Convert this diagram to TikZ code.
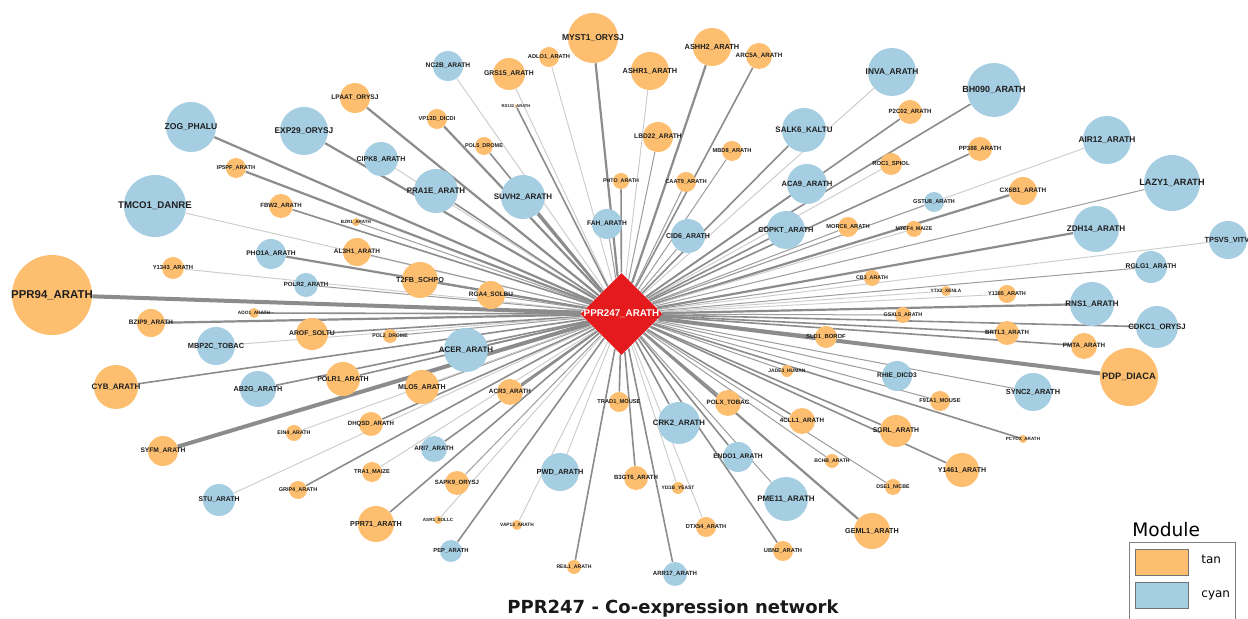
\documentclass[tikz,border=0pt]{standalone}
\usepackage{fontspec}
\setmainfont{Liberation Sans}
\newfontfamily\labfont{Liberation Sans}
\newfontfamily\titfont{DejaVu Sans}
\usetikzlibrary{shapes.geometric,backgrounds}
\definecolor{tanc}{RGB}{253,191,111}
\definecolor{cyanc}{RGB}{166,206,227}
\definecolor{hubred}{RGB}{228,26,28}
\definecolor{edgec}{RGB}{140,140,140}
\definecolor{labc}{RGB}{30,30,30}
\tikzset{
  gcirc/.style={circle,inner sep=0pt,draw=none},
  glab/.style={text=labc,inner sep=0pt},
  eL/.style={draw=edgec!45,line width=0.45pt},
  eT/.style={draw=edgec!85,line width=0.5pt},
  eM/.style={draw=edgec,line width=0.8pt},
  eH/.style={draw=edgec,line width=1.1pt},
  eX/.style={draw=edgec,line width=2pt},
  swatch/.style={draw=black!55,line width=0.4pt},
}
% #1 name, #2 x, #3 y, #4 radius(px), #5 colour, #6 label, #7 edge style
\newcommand\gn[7]{%
  \pgfmathsetmacro\gfs{1.9+0.095*#4}%
  \node[gcirc,fill=#5,minimum size=#4pt] (#1) at (#2,#3) {};
  \node[glab,font={\labfont\bfseries\fontsize{\gfs pt}{\gfs pt}\selectfont}] (#1-l) at (#1) {#6};
  \begin{pgfonlayer}{background}\draw[#7] (hub) -- (#1);\end{pgfonlayer}%
}
\begin{document}
\begin{tikzpicture}[x=0.5pt,y=-0.5pt]
\useasboundingbox (0,0) rectangle (1248,619);
\begin{pgfonlayer}{background}\fill[white] (0,0) rectangle (1248,619);\end{pgfonlayer}
\clip (0,0) rectangle (1248,619);
\node[diamond,aspect=1,fill=hubred,inner sep=0pt,minimum size=41pt] (hub) at (621.5,314) {};
\gn{MYST1}{593}{38}{25}{tanc}{MYST1\_ORYSJ}{eH}
\gn{ADLO1}{549}{57}{10}{tanc}{ADLO1\_ARATH}{eL}
\gn{ASHH2}{712}{47}{19}{tanc}{ASHH2\_ARATH}{eH}
\gn{ARC5A}{759}{56}{13}{tanc}{ARC5A\_ARATH}{eM}
\gn{NC2B}{448}{66}{15}{cyanc}{NC2B\_ARATH}{eL}
\gn{GRS15}{509}{74}{16}{tanc}{GRS15\_ARATH}{eL}
\gn{ASHR1}{650}{71}{19}{tanc}{ASHR1\_ARATH}{eL}
\gn{INVA}{892}{72}{24}{cyanc}{INVA\_ARATH}{eL}
\gn{BH090}{994}{90}{27}{cyanc}{BH090\_ARATH}{eM}
\gn{LPAAT}{355}{98}{15}{tanc}{LPAAT\_ORYSJ}{eH}
\gn{RS132}{516}{106}{1.5}{tanc}{RS132\_ARATH}{eM}
\gn{VP13D}{437}{119}{10}{tanc}{VP13D\_DICDI}{eH}
\gn{P2C02}{910}{112}{12}{tanc}{P2C02\_ARATH}{eM}
\gn{ZOG}{191}{127}{25}{cyanc}{ZOG\_PHALU}{eH}
\gn{EXP29}{304}{131}{24}{cyanc}{EXP29\_ORYSJ}{eH}
\gn{LBD22}{658}{137}{15}{tanc}{LBD22\_ARATH}{eT}
\gn{SALK6}{804}{130}{22}{cyanc}{SALK6\_KALTU}{eM}
\gn{PP388}{980}{149}{12}{tanc}{PP388\_ARATH}{eM}
\gn{AIR12}{1107}{140}{24}{cyanc}{AIR12\_ARATH}{eL}
\gn{POL5}{484}{146}{9}{tanc}{POL5\_DROME}{eM}
\gn{MBD8}{732}{151}{10}{tanc}{MBD8\_ARATH}{eT}
\gn{ROC1}{891}{164}{11}{tanc}{ROC1\_SPIOL}{eL}
\gn{CIPK8}{381}{159}{17}{cyanc}{CIPK8\_ARATH}{eL}
\gn{IP5PF}{236}{168}{10}{tanc}{IP5PF\_ARATH}{eH}
\gn{PHTO}{621}{181}{8}{tanc}{PHTO\_ARATH}{eM}
\gn{CAAT9}{686}{182}{10}{tanc}{CAAT9\_ARATH}{eT}
\gn{ACA9}{807}{184}{20}{cyanc}{ACA9\_ARATH}{eM}
\gn{LAZY1}{1172}{183}{28}{cyanc}{LAZY1\_ARATH}{eT}
\gn{CX6B1}{1023}{191}{14}{tanc}{CX6B1\_ARATH}{eH}
\gn{PRA1E}{436}{191}{22}{cyanc}{PRA1E\_ARATH}{eM}
\gn{SUVH2}{523}{197}{22}{cyanc}{SUVH2\_ARATH}{eH}
\gn{GSTU8}{934}{202}{10}{cyanc}{GSTU8\_ARATH}{eT}
\gn{TMCO1}{155}{206}{31}{cyanc}{TMCO1\_DANRE}{eL}
\gn{FBW2}{281}{206}{12}{tanc}{FBW2\_ARATH}{eM}
\gn{BZR1}{356}{222}{4}{tanc}{BZR1\_ARATH}{eT}
\gn{FAH}{607}{224}{15}{cyanc}{FAH\_ARATH}{eT}
\gn{CID6}{688}{236}{17}{cyanc}{CID6\_ARATH}{eT}
\gn{CDPKT}{786}{230}{19}{cyanc}{CDPKT\_ARATH}{eM}
\gn{MORC6}{848}{227}{10}{tanc}{MORC6\_ARATH}{eT}
\gn{MTEF4}{914}{229}{8}{tanc}{MTEF4\_MAIZE}{eL}
\gn{ZDH14}{1096}{229}{23}{cyanc}{ZDH14\_ARATH}{eH}
\gn{TPSVS}{1228}{240}{19}{cyanc}{TPSVS\_VITVI}{eL}
\gn{PHO1A}{271}{254}{15}{cyanc}{PHO1A\_ARATH}{eH}
\gn{AL3H1}{357}{252}{14}{tanc}{AL3H1\_ARATH}{eT}
\gn{RGLG1}{1151}{267}{16}{cyanc}{RGLG1\_ARATH}{eT}
\gn{Y1343}{173}{268}{11}{tanc}{Y1343\_ARATH}{eL}
\gn{CB3}{872}{278}{8}{tanc}{CB3\_ARATH}{eT}
\gn{T2FB}{420}{280}{18}{tanc}{T2FB\_SCHPO}{eM}
\gn{POLR2}{306}{285}{12}{cyanc}{POLR2\_ARATH}{eT}
\gn{YTX2}{946}{291}{5}{tanc}{YTX2\_XENLA}{eL}
\gn{Y1385}{1007}{294}{9}{tanc}{Y1385\_ARATH}{eL}
\gn{RGA4}{491}{295}{14}{tanc}{RGA4\_SOLBU}{eT}
\gn{PPR94}{52}{295}{40}{tanc}{PPR94\_ARATH}{eX}
\gn{RNS1}{1092}{304}{22}{cyanc}{RNS1\_ARATH}{eH}
\gn{ADO1}{254}{313}{5}{tanc}{ADO1\_ARATH}{eM}
\gn{GSXL5}{903}{315}{8}{tanc}{GSXL5\_ARATH}{eT}
\gn{BZIP9}{151}{323}{14}{tanc}{BZIP9\_ARATH}{eH}
\gn{CDKC1}{1157}{327}{21}{cyanc}{CDKC1\_ORYSJ}{eM}
\gn{BRTL3}{1007}{333}{12}{tanc}{BRTL3\_ARATH}{eM}
\gn{AROF}{312}{334}{16}{tanc}{AROF\_SOLTU}{eM}
\gn{POL2}{390}{336}{7}{tanc}{POL2\_DROME}{eT}
\gn{SLD1}{826}{337}{11}{tanc}{SLD1\_BOROF}{eT}
\gn{MBP2C}{216}{346}{19}{cyanc}{MBP2C\_TOBAC}{eL}
\gn{ACER}{466}{350}{22}{cyanc}{ACER\_ARATH}{eM}
\gn{PMTA}{1084}{346}{13}{tanc}{PMTA\_ARATH}{eM}
\gn{PDP}{1129}{377}{29}{tanc}{PDP\_DIACA}{eX}
\gn{JADE3}{787}{371}{6}{tanc}{JADE3\_HUMAN}{eT}
\gn{CYB}{116}{387}{22}{tanc}{CYB\_ARATH}{eM}
\gn{POLR1}{343}{379}{17}{tanc}{POLR1\_ARATH}{eM}
\gn{MLO5}{422}{387}{17}{tanc}{MLO5\_ARATH}{eM}
\gn{RHIE}{897}{376}{15}{cyanc}{RHIE\_DICD3}{eT}
\gn{AB2G}{258}{389}{18}{cyanc}{AB2G\_ARATH}{eM}
\gn{ACR3}{510}{392}{13}{tanc}{ACR3\_ARATH}{eM}
\gn{SYNC2}{1033}{392}{19}{cyanc}{SYNC2\_ARATH}{eT}
\gn{F91A1}{940}{401}{10}{tanc}{F91A1\_MOUSE}{eT}
\gn{TRAD1}{619}{402}{10}{tanc}{TRAD1\_MOUSE}{eM}
\gn{POLX}{728}{403}{13}{tanc}{POLX\_TOBAC}{eM}
\gn{DHQSD}{371}{424}{12}{tanc}{DHQSD\_ARATH}{eM}
\gn{CRK2}{679}{423}{21}{cyanc}{CRK2\_ARATH}{eM}
\gn{CLL1}{802}{421}{13}{tanc}{4CLL1\_ARATH}{eM}
\gn{SGRL}{896}{431}{16}{tanc}{SGRL\_ARATH}{eM}
\gn{EIN4}{294}{433}{8}{tanc}{EIN4\_ARATH}{eL}
\gn{ARI7}{434}{449}{13}{cyanc}{ARI7\_ARATH}{eM}
\gn{PCYOX}{1023}{439}{4}{tanc}{PCYOX\_ARATH}{eM}
\gn{SYFM}{163}{451}{15}{tanc}{SYFM\_ARATH}{eX}
\gn{ENDO1}{738}{457}{15}{cyanc}{ENDO1\_ARATH}{eM}
\gn{BCHB}{832}{461}{7}{tanc}{BCHB\_ARATH}{eT}
\gn{TRA1}{372}{472}{10}{tanc}{TRA1\_MAIZE}{eL}
\gn{PWD}{560}{472}{19}{cyanc}{PWD\_ARATH}{eL}
\gn{Y1461}{962}{470}{17}{tanc}{Y1461\_ARATH}{eM}
\gn{SAPK9}{457}{483}{12}{tanc}{SAPK9\_ORYSJ}{eT}
\gn{B3GT6}{636}{478}{12}{tanc}{B3GT6\_ARATH}{eM}
\gn{YI31B}{678}{488}{6}{tanc}{YI31B\_YEAST}{eL}
\gn{DSE1}{893}{487}{8}{tanc}{DSE1\_NICBE}{eT}
\gn{GRIP4}{298}{490}{9}{tanc}{GRIP4\_ARATH}{eM}
\gn{STU}{219}{500}{16}{cyanc}{STU\_ARATH}{eL}
\gn{PME11}{786}{499}{22}{cyanc}{PME11\_ARATH}{eT}
\gn{ASR1}{438}{520}{4}{tanc}{ASR1\_SOLLC}{eL}
\gn{VAP13}{517}{525}{5}{tanc}{VAP13\_ARATH}{eL}
\gn{DTX54}{706}{527}{10}{tanc}{DTX54\_ARATH}{eL}
\gn{GEML1}{872}{531}{18}{tanc}{GEML1\_ARATH}{eH}
\gn{PPR71}{376}{524}{18}{tanc}{PPR71\_ARATH}{eM}
\gn{UBN2}{783}{551}{10}{tanc}{UBN2\_ARATH}{eM}
\gn{PEP}{451}{551}{11}{cyanc}{PEP\_ARATH}{eM}
\gn{REIL1}{574}{567}{7}{tanc}{REIL1\_ARATH}{eM}
\gn{ARR17}{675}{574}{12}{cyanc}{ARR17\_ARATH}{eM}
\node[text=white,inner sep=0pt,font={\labfont\bfseries\fontsize{4.9pt}{4.9pt}\selectfont}] (hub-l) at (hub) {PPR247\_ARATH};
% title
\node[anchor=base,inner sep=0pt,text=black!90,font={\titfont\bfseries\fontsize{9pt}{9pt}\selectfont}] (title) at (673,614) {PPR247 - Co-expression network};
% legend
\node[anchor=base west,inner sep=0pt,font={\titfont\fontsize{9.3pt}{9.3pt}\selectfont}] (legtitle) at (1132,537) {Module};
\node[draw=black!50,line width=0.5pt,inner sep=0pt,minimum width=53pt,minimum height=44pt,anchor=north west] (legbox) at (1129,542) {};
\node[swatch,fill=tanc,inner sep=0pt,minimum width=26.5pt,minimum height=13pt,anchor=north west] (swtan) at (1135,549) {};
\node[swatch,fill=cyanc,inner sep=0pt,minimum width=26.5pt,minimum height=13pt,anchor=north west] (swcyan) at (1135,582) {};
\node[anchor=base west,inner sep=0pt,font={\titfont\fontsize{6pt}{6pt}\selectfont}] (legtan) at (1201,564) {tan};
\node[anchor=base west,inner sep=0pt,font={\titfont\fontsize{6pt}{6pt}\selectfont}] (legcyan) at (1201,598) {cyan};
\end{tikzpicture}
\end{document}
